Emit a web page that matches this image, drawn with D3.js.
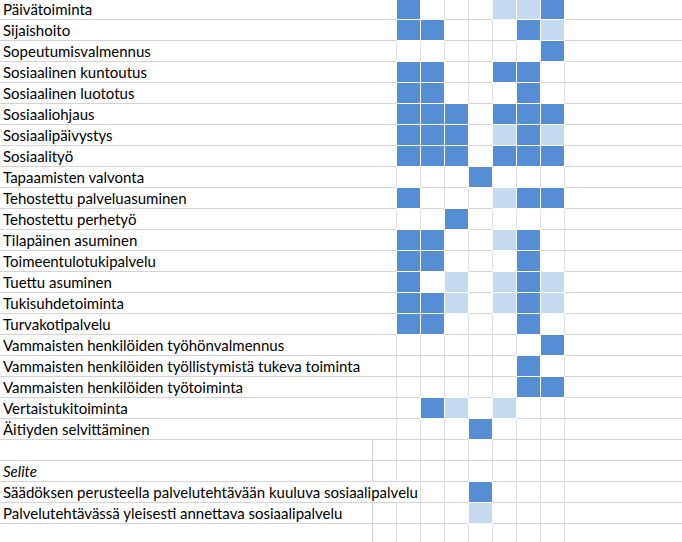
<!DOCTYPE html>
<html>
<head>
<meta charset="utf-8">
<script src="https://cdn.jsdelivr.net/npm/d3@7"></script>
<style>
  html, body { margin: 0; padding: 0; background: #fff; }
  svg { display: block; }
</style>
</head>
<body>
<svg id="chart"></svg>
<script>
// palvelut (rivit)
const services = [
  'Päivätoiminta', 'Sijaishoito', 'Sopeutumisvalmennus', 'Sosiaalinen kuntoutus',
  'Sosiaalinen luototus', 'Sosiaaliohjaus', 'Sosiaalipäivystys', 'Sosiaalityö',
  'Tapaamisten valvonta', 'Tehostettu palveluasuminen', 'Tehostettu perhetyö',
  'Tilapäinen asuminen', 'Toimeentulotukipalvelu', 'Tuettu asuminen',
  'Tukisuhdetoiminta', 'Turvakotipalvelu', 'Vammaisten henkilöiden työhönvalmennus',
  'Vammaisten henkilöiden työllistymistä tukeva toiminta',
  'Vammaisten henkilöiden työtoiminta', 'Vertaistukitoiminta', 'Äitiyden selvittäminen'
];
// 2 = säädöksen perusteella, 1 = yleisesti annettava, 0 = ei
const levels = [
  [2,0,0,0,1,1,2],
  [2,2,0,0,0,2,1],
  [0,0,0,0,0,0,2],
  [2,2,0,0,2,2,0],
  [2,2,0,0,0,2,0],
  [2,2,2,0,2,2,2],
  [2,2,2,0,1,2,1],
  [2,2,2,0,2,2,2],
  [0,0,0,2,0,0,0],
  [2,0,0,0,1,2,2],
  [0,0,2,0,0,0,0],
  [2,2,0,0,1,2,0],
  [2,2,0,0,0,2,0],
  [2,0,1,0,1,2,1],
  [2,2,1,0,1,2,1],
  [2,2,0,0,0,2,0],
  [0,0,0,0,0,0,2],
  [0,0,0,0,0,2,0],
  [0,0,0,0,0,2,2],
  [0,2,1,0,1,0,0],
  [0,0,0,2,0,0,0]
];
const columns = d3.range(7);
const legendTitle = 'Selite';
const legendLabels = [
  'Säädöksen perusteella palvelutehtävään kuuluva sosiaalipalvelu',
  'Palvelutehtävässä yleisesti annettava sosiaalipalvelu'
];
const legendLevels = [2, 1];
const legendColumn = 3;

const width = 682, height = 542;
const colors = { 2: '#558ed5', 1: '#c5d9f1' };

// kaikki rivit järjestyksessä: palvelut, tyhjä, selite, selitteet, tyhjä
const rows = [
  ...services.map((s, i) => ({ label: s, cells: levels[i], kind: 'data' })),
  { label: '', cells: [], kind: 'blank' },
  { label: legendTitle, cells: [], kind: 'title' },
  ...legendLabels.map((s, i) => ({ label: s, cells: columns.map(c => c === legendColumn ? legendLevels[i] : 0), kind: 'legend' })),
  { label: '', cells: [], kind: 'blank' }
];

const svg = d3.select('#chart').attr('width', width).attr('height', height);
svg.append('rect').attr('width', width).attr('height', height).attr('fill', '#fff');

const x = d3.scaleBand(columns, [396, 564]);
const y = d3.scaleBand(d3.range(rows.length), [-2, -2 + rows.length * 21]);
const rowH = y.step(), colW = x.step();

const fontFamily = 'Lato, "Open Sans", sans-serif';

// fonttikoko niin, että pisin teksti vastaa Excelin leveyttä
const probe = svg.append('text').attr('font-family', fontFamily).attr('font-size', 15)
  .text(legendLabels[0]);
const fontSize = 15 * 415 / probe.node().getComputedTextLength();
probe.remove();

const grid = svg.append('g');

// vaakaviivat
grid.selectAll('.hline')
  .data(rows.map((d, i) => i))
  .join('line')
  .attr('x1', 0).attr('x2', width)
  .attr('y1', i => y(i) + rowH + 0.5)
  .attr('y2', i => y(i) + rowH + 0.5)
  .attr('stroke', '#d4d4d4');

// pystyviivat solualueella
const vx = [...columns.map(c => x(c)), x(columns.length - 1) + colW];
grid.selectAll('.vline')
  .data(vx)
  .join('line')
  .attr('x1', d => d + 0.5).attr('x2', d => d + 0.5)
  .attr('y1', 0).attr('y2', height)
  .attr('stroke', '#dcdfe3');

// alaosan lisäsarake
const lowerStart = services.length;
grid.selectAll('.vlow')
  .data([x(0) - colW])
  .join('line')
  .attr('x1', d => d + 0.5).attr('x2', d => d + 0.5)
  .attr('y1', y(lowerStart)).attr('y2', height)
  .attr('stroke', '#d4d4d4');

// tekstit
const labels = svg.append('g')
  .selectAll('g')
  .data(rows)
  .join('g');

labels.append('rect')
  .attr('class', 'cover')
  .attr('x', 0)
  .attr('y', (d, i) => y(i) + 1)
  .attr('height', rowH - 1)
  .attr('fill', '#fff');

labels.append('text')
  .attr('x', 3)
  .attr('y', (d, i) => y(i) + rowH - 4)
  .attr('font-family', fontFamily)
  .attr('font-size', fontSize)
  .attr('font-style', d => d.kind === 'title' ? 'italic' : 'normal')
  .attr('fill', '#000')
  .text(d => d.label);

// teksti peittää ruudukon niiltä soluilta, joihin se valuu
const bounds = [x(0) - colW, ...vx];
labels.each(function(d) {
  const g = d3.select(this);
  const end = 3 + g.select('text').node().getComputedTextLength();
  const stop = bounds.find(b => b >= end);
  g.select('.cover').attr('width', d.kind === 'data' ? 0 : (end > bounds[0] ? stop : 0));
});

// solut
const cells = [];
rows.forEach((r, i) => r.cells.forEach((v, c) => { if (v) cells.push({ row: i, col: c, v }); }));

const cellG = svg.append('g');
cellG.selectAll('.under')
  .data(cells)
  .join('rect')
  .attr('x', d => x(d.col))
  .attr('y', d => y(d.row))
  .attr('width', colW + 1)
  .attr('height', rowH + 1)
  .attr('fill', '#fff');

cellG.selectAll('.cell')
  .data(cells)
  .join('rect')
  .attr('x', d => x(d.col) + 1)
  .attr('y', d => y(d.row) + 1)
  .attr('width', colW - 1)
  .attr('height', rowH - 1)
  .attr('fill', d => colors[d.v]);
</script>
</body>
</html>
